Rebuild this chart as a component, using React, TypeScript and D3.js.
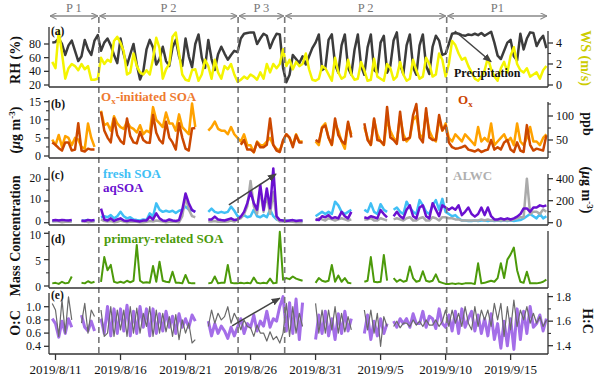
import React from 'react';
import * as d3 from 'd3';

const _ = null;
// 6-hourly samples starting 2019-08-10 00:00 (one row per day: 00,06,12,18)
const RH = [
_,_,_,82, 83,88,80,64, 78,85,70,55, 62,86,72,64, 85,93,70,82, 88,78,64,52, 88,65,49,65,
80,50,28,40, 72,86,75,50, 58,76,55,48, 75,86,62,48, 88,62,46,80, 94,60,45,86, 58,42,65,76,
66,57,64,70, 68,88,95,96, 97,97,80,88, 95,92,74,86, 95,94,45,24, 35,64,58,52, 62,50,62,74,
82,94,42,45, 86,94,50,38, 78,94,45,35, 72,94,48,35, 75,94,42,38, 82,92,38,48, 85,97,50,36,
78,94,46,35, 78,94,48,36, 76,92,85,64, 66,80,95,96, 95,93,92,94, 93,95,93,96, 92,95,98,82,
63,58,70,82, 86,62,56,95, 72,88,97,96, 77,86,92,74];
const WS = [
_,_,_,2.2, 1.6,5.2,3.0,0.6, 1.6,2.0,1.8,1.4, 2.0,1.5,1.8,0.5, 0.5,0.6,2.6,2.0, 2.4,2.2,4.2,4.6, 4.0,3.2,1.0,1.2,
3.0,1.8,1.2,1.0, 1.4,1.0,2.5,4.5, 3.5,0.6,1.5,2.0, 4.6,5.0,3.0,1.0, 0.5,0.4,1.4,1.5, 0.4,1.0,2.4,1.8, 0.6,2.4,1.2,0.6,
1.8,1.5,2.0,1.0, 0.3,0.5,0.8,0.6, 1.0,0.8,0.5,1.2, 0.6,2.0,1.2,2.0, 1.6,2.0,3.4,1.8, 2.4,1.5,2.2,1.8, 2.0,3.0,1.5,0.5,
0.4,0.6,1.8,1.6, 1.0,0.4,2.6,1.2, 0.6,0.8,2.4,1.0, 0.5,0.6,2.2,1.4, 0.4,0.5,2.5,0.8, 0.6,0.4,2.0,1.6, 0.5,0.8,2.2,1.0,
0.4,0.6,2.4,1.4, 0.6,0.8,2.6,2.0, 0.8,1.0,3.0,2.4, 0.8,2.0,4.2,3.8, 3.0,2.4,2.6,1.8, 1.2,0.6,0.4,0.8, 1.4,2.6,1.5,0.8,
0.4,1.6,2.2,1.2, 2.8,3.6,2.0,1.4, 1.2,1.6,0.8,1.0, 1.2,0.6,1.4,1.8];
const OX_SOA = [
_,_,_,4.5, 3.0,5.8,2.5,5.5, 5.0,3.0,5.0,4.5, 2.5,2.0,9.0,5.0, 2.5,_,12.5,8.5, 9,7,11,9, 8,7.5,9.5,8,
7.5,6.5,8.5,6, 7,6.5,13.5,10, 9,8,12,9, 9,7,11.5,8, 7,6,14.5,8, _,_,_,7, 8,9.5,7.5,7,
7,6,8,6, 5,4,6,3, 3,1,4,3, 3,4,5,3, 2,1.5,4,6, 5,3,6,4, 4,_,_,_,
4,3,8,9, 5,3,9,7, 4,2,9,6, _,_,_,8, 5,3,10,6, 4,3,10,7, 5,4,11,6,
4,5,10,11, 6,5,12,7, 5,4,10,7, 9,5,4,6, 5,4,6,5, 4,3,8,4, 5,4,9,3,
4,5,6,4, 5,3,9,4, 3,5,8,4, 4,3,5,6];
const OX = [
_,_,_,45, 40,33,28,45, 45,28,30,85, 28,26,32,30, 30,_,109,70, 55,45,95,60, 48,42,95,58,
45,43,67,50, 45,44,102,65, 50,43,88,55, 45,30,85,55, 32,28,74,75, _,_,_,_, _,_,_,_,
_,_,_,_, _,40,50,30, 30,25,45,35, 35,40,95,40, 28,25,50,62, 55,35,60,45, 45,_,_,_,
50,46,75,80, 55,40,95,60, 48,42,88,55, _,_,_,85, 50,40,95,50, 48,40,119,55, 50,42,109,50,
52,55,102,125, 55,45,116,55, 50,50,102,70, 80,45,35,32, 33,35,38,30, 28,26,30,25, 28,30,50,30,
35,30,45,50, 30,25,45,28, 25,81,40,28, 32,30,28,60];
const FRESH_SOA = [
_,_,_,0.8, 0.8,1.0,0.9,0.8, 0.9,0.8,_,_, 0.8,1.0,1.2,0.8, 1.0,_,2.5,3.0, 2.5,3.5,2.0,3.0, 5.0,3.0,2.0,2.5,
1.5,1.2,1.0,1.5, 1.2,4.3,3.0,8.9, 6.0,5.0,5.5,5.0, 5.5,4.5,5.5,6.0, 7.4,6.0,5.8,5.0, _,_,_,5.0, 6.5,5.0,4.5,5.0,
4.5,5.0,7.4,5.5, 3.0,2.5,3.5,2.5, 3.0,6.0,3.0,2.5, 3.5,2.5,6.0,3.0, 1.5,1.0,0.8,1.0, 0.8,1.0,0.8,0.8, 0.8,_,_,_,
3,4,5,4, 5,4,9.7,8, 5,4,5,6, _,_,_,6, 5,8.9,5,4, 8.5,6,5,_, 6,7,5,4,
9.7,7,5,4, 10.4,8,5,4, 8,10.4,6,11, 5,4,3,3.5, 2,1,1,0.8, 0.8,1,0.8,1, 1,0.8,1,0.8,
1,0.8,1,0.8, 1,0.8,1,1.2, 2,3,4,3, 2,4,2,3];
const AQ_SOA = [
_,_,_,1.0, 1.2,1.0,1.3,1.1, 1.0,1.2,_,_, 1.0,0.8,1.3,1.0, 1.2,_,6.5,1.5, 1.0,2.0,0.8,1.5, 2.0,1.0,0.8,1.2,
1.0,0.8,0.6,1.0, 1.0,2.8,1.5,4.3, 2.0,1.0,0.8,1.5, 1.0,0.8,1.2,6.0, 13.5,9.0,5.8,5.0, _,_,_,1.5, 1.5,2.8,1.5,1.2,
1.0,1.5,2.0,1.2, 1.5,2.8,5.0,9.0, 14.3,9.0,6.0,17.4, 5.8,15.8,6.6,25.0, 3.0,1.2,1.0,0.8, 1.0,1.2,0.8,1.0, 1.0,_,_,_,
1.5,1.2,3,2.5, 3.5,2,2.5,2, 5,3,2,5, _,_,_,2.5, 2,3,2.5,2, 5.8,4,2.5,_, 3,5,3,2,
6,8,3,2, 7,8,3,2, 9,6,3,8, 7,6,7,6, 8,3.5,5,7, 4,2.8,4,7, 3.5,7,3,1.5,
1.5,2,1.5,2, 1.5,2,2.8,4, 6.6,6.6,5,7, 7,8,7.5,8];
const ALWC = [
_,_,_,10, 15,10,5,8, 10,8,_,_, 10,12,5,8, 10,_,30,15, 10,15,5,8, 20,10,5,8,
10,8,3,5, 8,15,10,20, 15,10,5,8, 10,8,5,60, 236,120,60,50, _,_,_,10, 10,15,8,10,
8,10,20,10, 30,40,80,150, 380,150,80,300, 100,250,80,280, 40,10,10,10, 10,8,5,5, 5,_,_,_,
20,40,30,20, 40,30,20,30, 40,30,20,30, _,_,_,30, 30,40,20,20, 40,30,20,_, 30,40,30,20,
40,50,20,20, 40,50,20,20, 50,40,20,50, 50,40,40,30, 30,20,20,20, 20,20,20,30, 20,30,20,20,
20,20,20,20, 20,30,40,50, 50,400,80,100, 100,80,120,100];
const PRIMARY_SOA = [
_,_,_,0.5, 0.6,0.4,0.8,0.5, 0.6,1.8,_,_, 0.6,0.5,0.9,0.6, 0.8,_,0.8,5.5, 3.0,4.0,0.8,0.6, 0.8,0.6,1.0,0.7,
1.0,7.8,1.0,0.6, 0.7,0.6,3.8,0.8, 4.6,1.0,0.8,0.7, 2.7,0.6,0.6,0.5, 2.1,0.6,0.5,0.5, _,_,_,0.5, 0.6,1.8,0.5,0.6,
0.6,4.0,0.6,0.5, 0.5,0.6,0.5,0.6, 0.5,1.6,0.6,0.5, 0.6,0.5,1.4,0.5, 0.6,10.3,1.2,1.5, 1.3,1.8,1.4,1.2, 1.0,_,_,_,
0.6,1.5,1.0,0.8, 1.0,4.0,0.8,2.0, 0.8,1.5,0.6,0.5, _,_,_,0.8, 1.0,5.5,0.8,0.7, 0.8,5.9,1.0,_, 1.5,0.8,1.2,0.8,
1.0,3.7,1.5,0.8, 1.0,2.8,1.0,0.8, 1.0,2.2,0.8,0.6, 0.4,0.4,0.5,0.4, 0.5,0.4,0.5,0.5, 0.5,0.4,4.3,0.5, 0.6,0.8,1.0,0.8,
1.5,4.3,1.5,5.0, 6.0,7.3,3.0,0.8, 0.6,2.7,0.5,0.5, 0.5,0.6,0.8,1.2];
const HC = [
_,_,_,1.62, 1.58,1.47,1.60,1.50, 1.62,1.55,_,_, 1.65,1.55,1.52,1.60, 1.52,_,1.62,1.50, 1.72,1.48,1.70,1.50, 1.70,1.52,1.73,1.48,
1.68,1.50,1.72,1.55, 1.70,1.48,1.70,1.50, 1.66,1.52,1.68,1.55, 1.64,1.50,1.66,1.55, 1.62,1.55,1.65,1.60, _,_,_,1.60, 1.48,1.58,1.50,1.56,
1.52,1.46,1.55,1.48, 1.55,1.62,1.50,1.58, 1.55,1.65,1.52,1.60, 1.56,1.68,1.55,1.62, 1.60,1.72,1.80,1.52, 1.75,1.50,1.78,1.45, 1.75,_,_,_,
1.45,1.65,1.50,1.68, 1.48,1.62,1.45,1.66, 1.50,1.68,1.52,1.62, _,_,_,1.50, 1.65,1.45,1.60,1.48, 1.62,1.50,1.58,_, 1.60,1.55,1.62,1.58,
1.62,1.55,1.66,1.58, 1.58,1.68,1.55,1.64, 1.62,1.54,1.70,1.58, 1.55,1.65,1.52,1.68, 1.50,1.70,1.55,1.62, 1.68,1.52,1.65,1.50, 1.62,1.48,1.66,1.45,
1.58,1.38,1.60,1.40, 1.62,1.37,1.70,1.45, 1.68,1.50,1.72,1.55, 1.58,1.65,1.52,1.62];
const OC = [
_,_,_,1.05, 0.95,0.55,1.10,0.60, 1.15,0.80,_,_, 0.75,1.05,0.60,0.95, 0.85,_,0.95,0.55, 0.60,1.00,0.55,0.95, 0.65,0.95,0.55,1.00,
0.60,0.98,0.60,0.90, 0.70,1.00,0.55,0.95, 0.60,0.90,0.62,0.85, 0.55,0.88,0.50,0.80, 0.60,0.75,0.45,0.50, _,_,_,0.70, 0.95,0.75,0.90,0.80,
0.85,1.00,0.75,0.90, 0.80,0.65,0.80,0.70, 0.68,0.55,0.72,0.60, 0.60,0.48,0.62,0.50, 0.55,0.45,0.60,1.05, 0.55,1.00,0.60,0.90, 0.70,_,_,_,
1.05,0.60,0.95,0.60, 0.95,0.65,1.00,0.60, 0.90,0.62,0.85,0.65, _,_,_,0.95, 0.65,0.95,0.60,0.90, 0.40,0.85,0.70,_, 0.70,0.78,0.68,0.75,
0.75,0.70,0.80,0.72, 0.78,0.70,0.80,0.72, 0.72,0.80,0.70,0.78, 0.95,0.70,0.95,0.75, 0.90,0.70,1.00,0.75, 0.65,1.00,0.70,0.95, 0.80,0.95,0.70,1.05,
0.80,1.05,0.55,1.00, 0.65,1.10,0.70,0.95, 0.80,1.00,0.75,0.90, 0.75,0.85,0.70,0.80];

const PERIOD_BOUNDS = [new Date(2019, 7, 14, 8), new Date(2019, 7, 25, 1), new Date(2019, 7, 28, 15), new Date(2019, 8, 10, 2)];
const PERIOD_LABELS = ['P 1', 'P 2', 'P 3', 'P 2', 'P1'];
const X_TICKS = [new Date(2019, 7, 11), new Date(2019, 7, 16), new Date(2019, 7, 21), new Date(2019, 7, 26), new Date(2019, 7, 31), new Date(2019, 8, 5), new Date(2019, 8, 10), new Date(2019, 8, 15)];

const timeOf = (i: number) => new Date(2019, 7, 10, i * 6);
const FONT = "'Liberation Serif', 'Times New Roman', serif";
const AX = '#333';

type Scale = (v: number) => number;

function YAxis({ scale, x, top, bottom, ticks, minor = [], side, fmt = (v: number) => String(v), shift = 0, fs = 12 }:
  { scale: Scale; x: number; top: number; bottom: number; ticks: number[]; minor?: number[]; side: 'left' | 'right'; fmt?: (v: number) => string; shift?: number; fs?: number }) {
  const dir = side === 'left' ? -1 : 1;
  return (
    <g>
      <line x1={x} x2={x} y1={top} y2={bottom} stroke={AX} strokeWidth={1.3} />
      {ticks.map(v => (
        <g key={'t' + v}>
          <line x1={x} x2={x + dir * 5} y1={scale(v)} y2={scale(v)} stroke={AX} strokeWidth={1.3} />
          <text x={x + dir * 8} y={scale(v) + shift} dy="0.33em" fontSize={fs} textAnchor={side === 'left' ? 'end' : 'start'} fill="#111">{fmt(v)}</text>
        </g>
      ))}
      {minor.map(v => (
        <line key={'m' + v} x1={x} x2={x + dir * 3} y1={scale(v)} y2={scale(v)} stroke={AX} strokeWidth={1.1} />
      ))}
    </g>
  );
}

export default function App() {
  const X0 = 49, X1 = 548;
  const x = d3.scaleTime().domain([new Date(2019, 7, 10, 12), new Date(2019, 8, 17, 21)]).range([X0, X1]);

  const P = {
    a: { top: 27, bottom: 87 },
    b: { top: 100, bottom: 158 },
    c: { top: 167, bottom: 225 },
    d: { top: 231, bottom: 288 },
    e: { top: 293, bottom: 354 },
  };

  const yRH = d3.scaleLinear().domain([20, 80]).range([85, 44]);
  const yWS = d3.scaleLinear().domain([0, 4]).range([85, 43]);
  const ySOAb = d3.scaleLinear().domain([0, 15]).range([156, 101.7]);
  const yOx = d3.scaleLinear().domain([50, 100]).range([140, 116]);
  const yC = d3.scaleLinear().domain([0, 20]).range([222.7, 179.3]);
  const yLW = d3.scaleLinear().domain([0, 400]).range([222.7, 178.7]);
  const yD = d3.scaleLinear().domain([0, 10]).range([286, 233.3]);
  const yOC = d3.scaleLinear().domain([0.4, 1.0]).range([346.3, 306.7]);
  const yHC = d3.scaleLinear().domain([1.4, 1.8]).range([345.7, 296.6]);

  const path = (arr: (number | null)[], ys: Scale) =>
    d3.line<number | null>()
      .defined(d => d != null)
      .x((_d, i) => x(timeOf(i)))
      .y(d => ys(d as number))(arr) || '';

  const bounds = [x.domain()[0], ...PERIOD_BOUNDS, x.domain()[1]];
  const fmtDate = (d: Date) => `${d.getFullYear()}/${d.getMonth() + 1}/${d.getDate()}`;

  // annotation arrows, in data coordinates
  const annA = { from: [new Date(2019, 8, 10, 17), 99], to: [new Date(2019, 8, 13, 12), 54] } as const;
  const annC = { from: [new Date(2019, 7, 24, 8), 8.2], to: [new Date(2019, 7, 27, 23), 22.4] } as const;
  const annE = { from: [new Date(2019, 7, 24, 14), 0.71], to: [new Date(2019, 7, 28, 6), 1.13] } as const;

  const ug = (
    <>
      (<tspan fontStyle="italic">μ</tspan>g m<tspan dy={-5} fontSize={9}>-3</tspan><tspan dy={5}>)</tspan>
    </>
  );

  return (
    <svg width={600} height={381} style={{ position: 'absolute', left: 0, top: 0, background: '#fff' }} fontFamily={FONT}>
      <defs>
        <marker id="tri" viewBox="0 0 10 10" refX="9" refY="5" markerWidth="9" markerHeight="9" markerUnits="userSpaceOnUse" orient="auto">
          <path d="M0,1 L10,5 L0,9 z" fill="#444" />
        </marker>
        <marker id="vee" viewBox="0 0 10 10" refX="9.5" refY="5" markerWidth="7" markerHeight="7" markerUnits="userSpaceOnUse" orient="auto-start-reverse">
          <path d="M0,0.5 L9.5,5 L0,9.5" fill="none" stroke="#888" strokeWidth="1.6" />
        </marker>
      </defs>

      {/* period arrows and labels */}
      {bounds.slice(0, -1).map((b, i) => {
        const x1 = x(b), x2 = x(bounds[i + 1]);
        return (
          <g key={'p' + i}>
            <line x1={x1 + 1} x2={x2 - 1} y1={16} y2={16} stroke="#888" strokeWidth={1.4} markerStart="url(#vee)" markerEnd="url(#vee)" />
            <text x={(x1 + x2) / 2} y={12} fontSize={12.5} fill="#777" textAnchor="middle">{PERIOD_LABELS[i]}</text>
          </g>
        );
      })}

      {/* panel a */}
      <path d={path(RH, yRH)} fill="none" stroke="#3c3c3c" strokeWidth={2.5} strokeLinejoin="round" />
      <path d={path(WS, yWS)} fill="none" stroke="#f4f400" strokeWidth={2.5} strokeLinejoin="round" />
      {/* panel b */}
      <path d={path(OX_SOA, ySOAb)} fill="none" stroke="#ffa200" strokeWidth={2.5} strokeLinejoin="round" />
      <path d={path(OX, yOx)} fill="none" stroke="#cc4800" strokeWidth={2.5} strokeLinejoin="round" />
      {/* panel c */}
      <path d={path(FRESH_SOA, yC)} fill="none" stroke="#40bff5" strokeWidth={2.5} strokeLinejoin="round" />
      <path d={path(ALWC, yLW)} fill="none" stroke="#aaaaaa" strokeWidth={2.5} strokeLinejoin="round" />
      <path d={path(AQ_SOA, yC)} fill="none" stroke="#6a10d0" strokeWidth={2.5} strokeLinejoin="round" />
      {/* panel d */}
      <path d={path(PRIMARY_SOA, yD)} fill="none" stroke="#4c9a0a" strokeWidth={2} strokeLinejoin="round" />
      {/* panel e */}
      <path d={path(HC, yHC)} fill="none" stroke="#a46ee8" strokeWidth={3} strokeLinejoin="round" />
      <path d={path(OC, yOC)} fill="none" stroke="#6a6a6a" strokeWidth={1.2} strokeLinejoin="round" />

      {/* dashed period boundaries */}
      {PERIOD_BOUNDS.map((b, i) => (
        <line key={'d' + i} x1={x(b)} x2={x(b)} y1={17} y2={P.e.bottom} stroke="#777" strokeWidth={1.6} strokeDasharray="6,4" />
      ))}

      {/* bottom lines */}
      {Object.values(P).map((p, i) => (
        <line key={'bl' + i} x1={X0} x2={X1} y1={p.bottom} y2={p.bottom} stroke={AX} strokeWidth={1.3} />
      ))}

      {/* axes */}
      <YAxis scale={yRH} x={X0} top={P.a.top} bottom={P.a.bottom} ticks={[20, 40, 60, 80]} side="left" />
      <YAxis scale={yWS} x={X1} top={31} bottom={P.a.bottom} ticks={[0, 2, 4]} minor={[1, 3]} side="right" />
      <YAxis scale={ySOAb} x={X0} top={P.b.top} bottom={P.b.bottom} ticks={[0, 5, 10, 15]} minor={[2.5, 7.5, 12.5]} side="left" />
      <YAxis scale={yOx} x={X1} top={102} bottom={P.b.bottom} ticks={[50, 100]} minor={[25, 75, 125]} side="right" />
      <YAxis scale={yC} x={X0} top={P.c.top} bottom={P.c.bottom} ticks={[0, 10, 20]} minor={[5, 15]} side="left" shift={-1.5} fs={11.5} />
      <YAxis scale={yLW} x={X1} top={174} bottom={P.c.bottom} ticks={[0, 200, 400]} minor={[100, 300]} side="right" />
      <YAxis scale={yD} x={X0} top={P.d.top} bottom={P.d.bottom} ticks={[0, 5, 10]} minor={[2.5, 7.5]} side="left" shift={1.5} fs={11.5} />
      <line x1={X1} x2={X1} y1={P.d.top} y2={P.d.bottom} stroke={AX} strokeWidth={1.3} />
      <YAxis scale={yOC} x={X0} top={P.e.top} bottom={P.e.bottom} ticks={[0.4, 0.6, 0.8, 1.0]} side="left" fmt={v => v.toFixed(1)} />
      <YAxis scale={yHC} x={X1} top={P.e.top} bottom={P.e.bottom} ticks={[1.4, 1.6, 1.8]} minor={[1.5, 1.7]} side="right" fmt={v => v.toFixed(1)} />

      {/* x axis */}
      {X_TICKS.map((d, i) => (
        <g key={'x' + i}>
          <line x1={x(d)} x2={x(d)} y1={P.e.bottom} y2={P.e.bottom + 6} stroke={AX} strokeWidth={1.3} />
          <text x={x(d)} y={P.e.bottom + 20} fontSize={13} textAnchor="middle" fill="#111">{fmtDate(d)}</text>
        </g>
      ))}

      {/* panel labels */}
      <g fontWeight="bold" fontSize={11.5} fill="#111">
        <text x={51} y={35}>(a)</text>
        <text x={51} y={108}>(b)</text>
        <text x={51} y={179}>(c)</text>
        <text x={51} y={243}>(d)</text>
        <text x={51} y={299}>(e)</text>
      </g>

      {/* legends */}
      <g fontWeight="bold" fontSize={13}>
        <text x={101} y={101} fill="#ee7a30">O<tspan dy={3} fontSize={9}>x</tspan><tspan dy={-3}>-initiated SOA</tspan></text>
        <text x={458} y={104} fill="#cc4400">O<tspan dy={3} fontSize={9}>x</tspan></text>
        <text x={103} y={178} fill="#40bff5">fresh SOA</text>
        <text x={103} y={192} fill="#6a10d0">aqSOA</text>
        <text x={453} y={180} fill="#b0b0b0">ALWC</text>
        <text x={104} y={243} fill="#4c9a0a">primary-related SOA</text>
        <text x={454} y={77} fontSize={12} fill="#111">Precipitation</text>
      </g>

      {/* annotation arrows */}
      <line x1={x(annA.from[0])} y1={yRH(annA.from[1])} x2={x(annA.to[0])} y2={yRH(annA.to[1])} stroke="#444" strokeWidth={1.5} markerEnd="url(#tri)" />
      <line x1={x(annC.from[0])} y1={yC(annC.from[1])} x2={x(annC.to[0])} y2={yC(annC.to[1])} stroke="#444" strokeWidth={1.5} markerEnd="url(#tri)" />
      <line x1={x(annE.from[0])} y1={yOC(annE.from[1])} x2={x(annE.to[0])} y2={yOC(annE.to[1])} stroke="#444" strokeWidth={1.5} markerEnd="url(#tri)" />

      {/* axis titles */}
      <g fontWeight="bold" fontSize={14} fill="#111" textAnchor="middle">
        <text transform="translate(20,60) rotate(-90)">RH (%)</text>
        <text transform="translate(20,130) rotate(-90)">{ug}</text>
        <text transform="translate(20,236) rotate(-90)">Mass Concentration</text>
        <text transform="translate(20,323) rotate(-90)">O:C</text>
        <text transform="translate(581,58) rotate(90)" fill="#cccc00">WS (m/s)</text>
        <text transform="translate(583,124) rotate(90)">ppb</text>
        <text transform="translate(582,190) rotate(90)">{ug}</text>
        <text transform="translate(583,321) rotate(90)">H:C</text>
      </g>
    </svg>
  );
}
